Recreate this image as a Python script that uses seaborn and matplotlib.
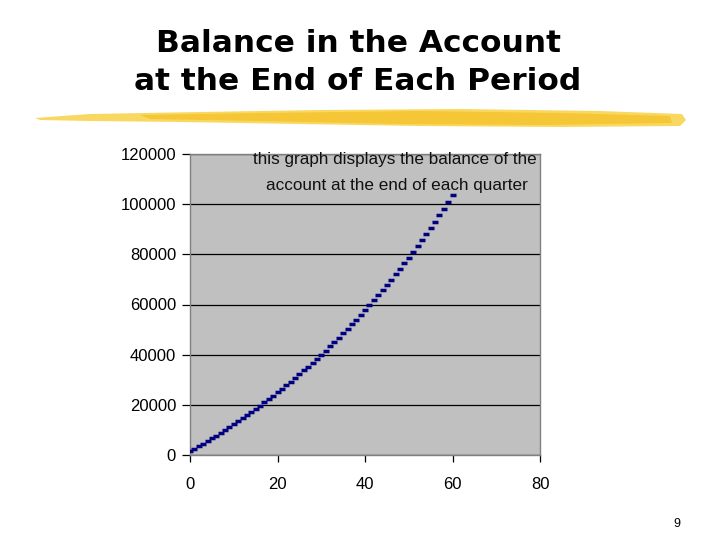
import matplotlib
matplotlib.use("Agg")
import matplotlib.pyplot as plt
import seaborn as sns
import pandas as pd
from matplotlib.patches import Polygon

# ---- data ----
quarters = list(range(0, 61))
balance = [
    1500, 2500, 3510, 4540, 5590, 6660, 7740, 8840, 9960, 11100,
    12260, 13440, 14640, 15860, 17100, 18360, 19640, 20940, 22260, 23610,
    24980, 26370, 27790, 29230, 30690, 32180, 33690, 35230, 36790, 38380,
    40000, 41650, 43320, 45020, 46750, 48510, 50290, 52110, 53960, 55840,
    57750, 59690, 61670, 63680, 65720, 67800, 69910, 72060, 74240, 76460,
    78720, 81010, 83350, 85720, 88140, 90590, 93080, 95620, 98200, 100830,
    103490,
]
x_ticks = [0, 20, 40, 60, 80]
y_ticks = [0, 20000, 40000, 60000, 80000, 100000, 120000]
title_lines = ["Balance in the Account", "at the End of Each Period"]
note_lines = ["this graph displays the balance of the",
              "account at the end of each quarter"]
page_number = "9"

df = pd.DataFrame({"quarter": quarters, "balance": balance})

sns.set_theme(style="white")
plt.rcParams["font.family"] = ["Liberation Sans", "DejaVu Sans"]

fig = plt.figure(figsize=(7.2, 5.4), dpi=100)
fig.patch.set_facecolor("white")

# ---- title ----
fig.text(359 / 720, 1 - 52 / 540, title_lines[0], ha="center", va="baseline",
         fontsize=22.5, fontweight="bold", family=["DejaVu Sans"], color="black")
fig.text(358 / 720, 1 - 89.5 / 540, title_lines[1], ha="center", va="baseline",
         fontsize=22.5, fontweight="bold", family=["DejaVu Sans"], color="black")

# ---- yellow highlighter stroke ----
def px(pts):
    return [(x / 720, 1 - y / 540) for x, y in pts]

stroke_outer = px([(35, 118), (90, 114), (200, 112), (320, 110), (460, 109),
                   (600, 111), (682, 114), (686, 120), (680, 126), (560, 127),
                   (420, 126), (300, 124), (180, 122), (90, 121), (40, 120)])
stroke_inner = px([(140, 115), (260, 113), (420, 111), (560, 113), (670, 116),
                   (672, 123), (540, 125), (400, 124), (260, 121), (150, 119)])
fig.patches.append(Polygon(stroke_outer, closed=True, transform=fig.transFigure,
                           facecolor="#f9d862", edgecolor="none", zorder=1))
fig.patches.append(Polygon(stroke_inner, closed=True, transform=fig.transFigure,
                           facecolor="#f4c22a", edgecolor="none", zorder=2, alpha=0.8))

# ---- chart ----
ax = fig.add_axes([190 / 720, 1 - 455 / 540, 350 / 720, 301 / 540])
ax.set_facecolor("#c0c0c0")

sns.scatterplot(data=df, x="quarter", y="balance", ax=ax, marker="_",
                s=18, linewidth=2.5, color="#000080", zorder=3, legend=False)

ax.set_xlim(0, 80)
ax.set_ylim(0, 120000)
ax.set_xticks(x_ticks)
ax.set_yticks(y_ticks)
ax.set_xticklabels([str(v) for v in x_ticks])
ax.set_yticklabels([str(v) for v in y_ticks])
ax.set_xlabel("")
ax.set_ylabel("")

ax.yaxis.grid(True, color="black", linewidth=0.9)
ax.xaxis.grid(False)
ax.set_axisbelow(True)

for sp in ax.spines.values():
    sp.set_color("#808080")
    sp.set_linewidth(1.0)
    sp.set_visible(True)

ax.tick_params(axis="y", which="major", direction="out", length=6, width=0.9,
               color="black", pad=4, labelsize=12, labelcolor="black", left=True)
ax.tick_params(axis="x", which="major", direction="out", length=5, width=0.9,
               color="black", pad=11, labelsize=12, labelcolor="black", bottom=True)

# ---- annotation inside the plot ----
ax.text(0.586, 0.967, note_lines[0], transform=ax.transAxes, ha="center",
        va="baseline", fontsize=12.3, color="#111111", zorder=4)
ax.text(0.591, 0.880, note_lines[1], transform=ax.transAxes, ha="center",
        va="baseline", fontsize=12.3, color="#111111", zorder=4)

# ---- page number ----
fig.text(676.5 / 720, 1 - 527 / 540, page_number, ha="center", va="baseline",
         fontsize=9, color="black")

fig.savefig("out.png", dpi=100)
